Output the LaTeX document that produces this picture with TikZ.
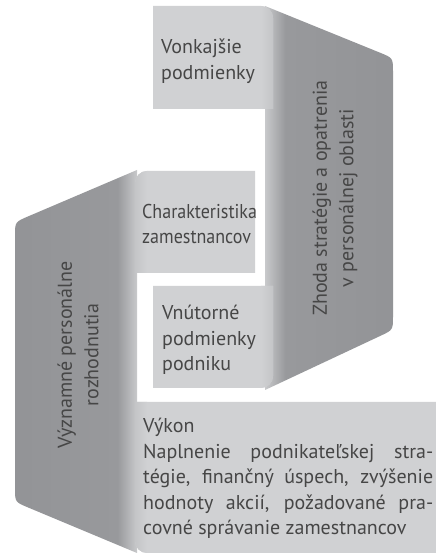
\documentclass[tikz,border=0pt]{standalone}
\usepackage{fontspec}
\setmainfont{PT Sans}
\definecolor{boxc}{HTML}{D0D1D3}
\definecolor{boxe}{HTML}{C4C5C7}
\definecolor{pnc}{HTML}{98999C}
\definecolor{pnd}{HTML}{939497}
\definecolor{flc}{HTML}{C8C9CB}
\definecolor{txtc}{HTML}{464646}
\pgfdeclarehorizontalshading{rpanel}{100bp}{color(0bp)=(flc); color(25bp)=(flc); color(33bp)=(pnc); color(72bp)=(pnd); color(100bp)=(pnd)}
\pgfdeclarehorizontalshading{lpanel}{100bp}{color(0bp)=(pnd); color(28bp)=(pnd); color(67bp)=(pnc); color(75bp)=(flc); color(100bp)=(flc)}
\tikzset{
  lbox/.style={fill=boxc, draw=none},
  txt/.style={text=txtc, inner sep=0pt, font=\fontsize{20}{25.5}\selectfont},
  vtxt/.style={text=txtc, inner sep=0pt, rotate=90, align=center, font=\fontsize{20}{26.5}\selectfont}
}
\begin{document}
\begin{tikzpicture}[x=1pt,y=1pt]
\useasboundingbox (0,0) rectangle (436,553);
\fill[white] (0,0) rectangle (436,553);
% right dark panel
\shade[shading=rpanel] (265,547) -- (380.0,500.3) .. controls (393,495) .. (393,481) -- (393,237) .. controls (393,223) .. (380.3,217.1) -- (265,163) -- cycle;
% left dark panel
\shade[shading=lpanel] (137,383) -- (27.9,336.5) .. controls (15,331) .. (15,317) -- (15,65) .. controls (15,51) .. (27.9,45.6) -- (137,0) -- cycle;
% light boxes with fold shading
\begin{scope}
\clip (153,444) -- (153,547) -- (261,547) arc[start angle=90, end angle=0, radius=12] -- (273,444) -- cycle;
\fill[lbox] (150,440) rectangle (280,550);
\shade[left color=boxc, right color=boxe] (261,440) rectangle (273.2,550);
\end{scope}
\begin{scope}
\clip (153,165) -- (153,267) -- (273,267) -- (273,177) arc[start angle=0, end angle=-90, radius=12] -- cycle;
\fill[lbox] (150,160) rectangle (280,270);
\shade[left color=boxc, right color=boxe] (261,160) rectangle (273.2,270);
\end{scope}
\begin{scope}
\clip (255,280) -- (255,382) -- (147,382) arc[start angle=90, end angle=180, radius=12] -- (135,280) -- cycle;
\fill[lbox] (130,275) rectangle (260,385);
\shade[left color=boxe, right color=boxc] (134.8,275) rectangle (147,385);
\end{scope}
\begin{scope}
\clip (436,151) -- (135,151) -- (135,12) arc[start angle=180, end angle=270, radius=12] -- (436,0) -- cycle;
\fill[lbox] (130,-2) rectangle (440,155);
\shade[left color=boxe, right color=boxc] (134.8,-2) rectangle (147,155);
\end{scope}
% texts
\node[txt, anchor=north west, align=left] (vonk) at (161,514) {Vonkajšie\\podmienky};
\node[txt, anchor=north west, align=left] (char) at (142,349) {\scalebox{0.9}[1]{Charakteristika}\\\scalebox{0.9}[1]{zamestnancov}};
\node[txt, anchor=north west, align=left] (vnut) at (162,248) {Vnútorné\\podmienky\\podniku};
\node[txt, anchor=north west, align=left] (vykon) at (143,135) {Výkon\\
\makebox[290pt][s]{Naplnenie podnikateľskej stra-}\\
\makebox[290pt][s]{tégie, finančný úspech, zvýšenie}\\
\makebox[290pt][s]{hodnoty akcií, požadované pra-}\\
covné správanie zamestnancov};
\node[vtxt] (zhoda) at (335,355) {Zhoda stratégie a opatrenia\\v personálnej oblasti};
\node[vtxt] (vyzn) at (78,198) {Významné personálne\\rozhodnutia};
\end{tikzpicture}
\end{document}
